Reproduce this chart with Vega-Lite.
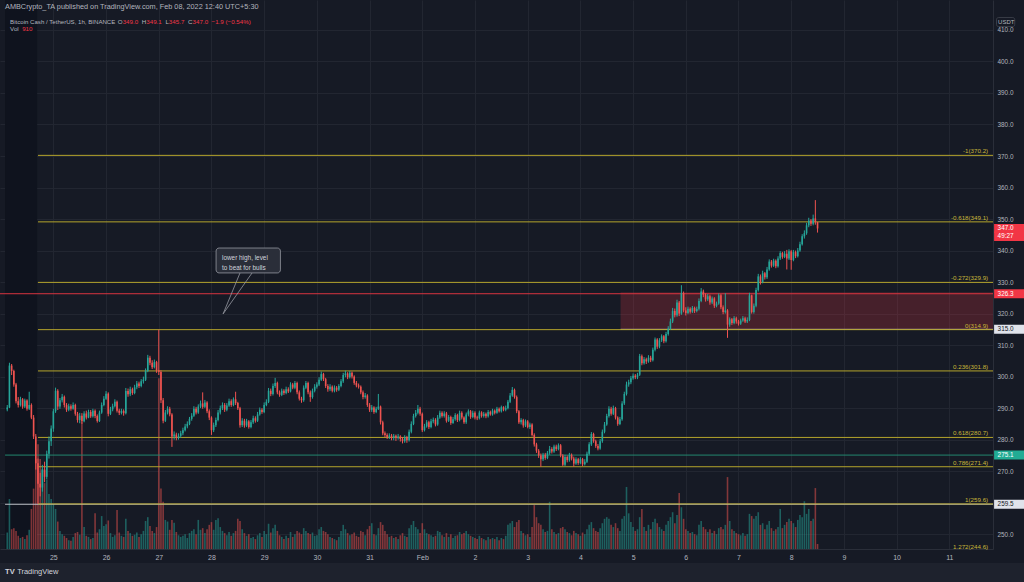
{
"$schema":"https://vega.github.io/schema/vega-lite/v6.json",
"width":993,"height":549,
"autosize":{"type":"none"},
"padding":{"left":0,"top":0,"right":31,"bottom":33},
"background":"#161a25",
"config":{"view":{"stroke":null,"fill":"#161a25"},"axis":{"title":null,"labelFont":"Liberation Sans","labelColor":"#b2b5be","gridColor":"#222631","domainColor":"#2a2e39","ticks":false,"labelOverlap":false},"text":{"font":"Liberation Sans"}},
"datasets":{
"k":[
{"t":3,"o":289.6,"h":291,"l":289,"c":290.2,"v":3000},
{"t":4,"o":290.2,"h":304.4,"l":290,"c":303.5,"v":9100},
{"t":5,"o":303.5,"h":304,"l":300.5,"c":301.8,"v":3600},
{"t":6,"o":301.8,"h":302.2,"l":296.8,"c":297.5,"v":3800},
{"t":7,"o":297.5,"h":298,"l":291.5,"c":292.2,"v":3300},
{"t":8,"o":292.2,"h":293.5,"l":290.2,"c":291,"v":2400},
{"t":9,"o":291,"h":293.6,"l":290.5,"c":292.8,"v":2000},
{"t":10,"o":292.8,"h":293.2,"l":289.8,"c":290.5,"v":2200},
{"t":11,"o":290.5,"h":293,"l":290,"c":292.4,"v":1800},
{"t":12,"o":292.4,"h":292.8,"l":289.2,"c":289.8,"v":2500},
{"t":13,"o":289.8,"h":295.2,"l":289.4,"c":291,"v":3500},
{"t":14,"o":291,"h":291.5,"l":286.5,"c":287,"v":7300},
{"t":15,"o":287,"h":287.8,"l":280.2,"c":281,"v":11000},
{"t":16,"o":281,"h":281.8,"l":270.5,"c":272.5,"v":16400},
{"t":17,"o":272.5,"h":274,"l":259.6,"c":266,"v":19100},
{"t":18,"o":266,"h":269.5,"l":262,"c":264.8,"v":16400},
{"t":19,"o":264.8,"h":272,"l":263.5,"c":270.5,"v":14600},
{"t":20,"o":270.5,"h":273,"l":266.5,"c":268.2,"v":12000},
{"t":21,"o":268.2,"h":276.5,"l":267.5,"c":275.5,"v":12700},
{"t":22,"o":275.5,"h":281,"l":274,"c":279.5,"v":10000},
{"t":23,"o":279.5,"h":284.5,"l":278,"c":283.5,"v":9100},
{"t":24,"o":283.5,"h":289.8,"l":282.5,"c":289,"v":8200},
{"t":25,"o":289,"h":296.5,"l":288.5,"c":295.5,"v":7300},
{"t":26,"o":295.5,"h":296,"l":289.4,"c":290.5,"v":5000},
{"t":27,"o":290.5,"h":293.2,"l":289.8,"c":292.5,"v":3300},
{"t":28,"o":292.5,"h":294.5,"l":291.8,"c":293.6,"v":2700},
{"t":29,"o":293.6,"h":294,"l":290.2,"c":291,"v":2400},
{"t":30,"o":291,"h":291.6,"l":288.8,"c":289.5,"v":2000},
{"t":31,"o":289.5,"h":291.4,"l":289,"c":290.6,"v":1600},
{"t":32,"o":290.6,"h":291.2,"l":289.2,"c":289.8,"v":1500},
{"t":33,"o":289.8,"h":291.8,"l":289.5,"c":291,"v":2200},
{"t":34,"o":291,"h":291.4,"l":287.6,"c":288.2,"v":2900},
{"t":35,"o":288.2,"h":288.8,"l":285.4,"c":286.2,"v":3100},
{"t":36,"o":286.2,"h":288.5,"l":285.2,"c":287.6,"v":2600},
{"t":37,"o":287.6,"h":288.4,"l":285,"c":285.8,"v":23100},
{"t":38,"o":285.8,"h":289,"l":285.5,"c":288.3,"v":4000},
{"t":39,"o":288.3,"h":289.2,"l":286.4,"c":287,"v":2400},
{"t":40,"o":287,"h":289.5,"l":286.8,"c":288.8,"v":2200},
{"t":41,"o":288.8,"h":289.4,"l":286.9,"c":287.4,"v":1800},
{"t":42,"o":287.4,"h":289.8,"l":287,"c":289.2,"v":2000},
{"t":43,"o":289.2,"h":289.6,"l":286.8,"c":287.5,"v":6500},
{"t":44,"o":287.5,"h":288,"l":285.4,"c":285.9,"v":3000},
{"t":45,"o":285.9,"h":289.2,"l":285.6,"c":288.6,"v":3600},
{"t":46,"o":288.6,"h":291.8,"l":288.2,"c":291,"v":6000},
{"t":47,"o":291,"h":293.8,"l":290.6,"c":293,"v":4200},
{"t":48,"o":293,"h":295.4,"l":292.6,"c":294.6,"v":4500},
{"t":49,"o":294.6,"h":295,"l":287.4,"c":288.2,"v":5200},
{"t":50,"o":288.2,"h":290.4,"l":287.8,"c":289.6,"v":2900},
{"t":51,"o":289.6,"h":291.4,"l":289,"c":290.6,"v":2200},
{"t":52,"o":290.6,"h":292.8,"l":290.2,"c":292,"v":2500},
{"t":53,"o":292,"h":292.4,"l":288.6,"c":289.2,"v":7100},
{"t":54,"o":289.2,"h":289.8,"l":287.8,"c":288.5,"v":3000},
{"t":55,"o":288.5,"h":289.8,"l":288,"c":289.1,"v":2400},
{"t":56,"o":289.1,"h":289.6,"l":287.6,"c":288.4,"v":2200},
{"t":57,"o":288.4,"h":296.4,"l":288,"c":295.4,"v":5500},
{"t":58,"o":295.4,"h":296.2,"l":293.6,"c":294.4,"v":3300},
{"t":59,"o":294.4,"h":296.8,"l":293.8,"c":296,"v":2900},
{"t":60,"o":296,"h":296.5,"l":294.2,"c":294.8,"v":2400},
{"t":61,"o":294.8,"h":297.4,"l":294.4,"c":296.6,"v":2600},
{"t":62,"o":296.6,"h":298.6,"l":296,"c":297.8,"v":3000},
{"t":63,"o":297.8,"h":298.4,"l":296.4,"c":297,"v":2200},
{"t":64,"o":297,"h":299.2,"l":296.6,"c":298.5,"v":2700},
{"t":65,"o":298.5,"h":300,"l":297.8,"c":299,"v":3300},
{"t":66,"o":299,"h":302.6,"l":298.6,"c":301.8,"v":5100},
{"t":67,"o":301.8,"h":306.9,"l":301.4,"c":306,"v":5800},
{"t":68,"o":306,"h":306.6,"l":303.6,"c":304.4,"v":4200},
{"t":69,"o":304.4,"h":305.2,"l":302.4,"c":303,"v":3300},
{"t":70,"o":303,"h":305.4,"l":302.6,"c":304.6,"v":2900},
{"t":71,"o":304.6,"h":305,"l":301.2,"c":302,"v":4000},
{"t":72,"o":302,"h":314.9,"l":300.5,"c":301.5,"v":31100},
{"t":73,"o":301.5,"h":302,"l":291.6,"c":292.5,"v":11000},
{"t":74,"o":292.5,"h":293.2,"l":285.2,"c":286,"v":8600},
{"t":75,"o":286,"h":289.4,"l":285.6,"c":288.6,"v":5300},
{"t":76,"o":288.6,"h":290.6,"l":288,"c":289.8,"v":5000},
{"t":77,"o":289.8,"h":290.4,"l":287.4,"c":288,"v":3500},
{"t":78,"o":288,"h":288.4,"l":277.7,"c":281,"v":5300},
{"t":79,"o":281,"h":282.6,"l":280,"c":281.6,"v":4800},
{"t":80,"o":281.6,"h":282.2,"l":279.8,"c":280.5,"v":3100},
{"t":81,"o":280.5,"h":282,"l":280,"c":281.2,"v":2500},
{"t":82,"o":281.2,"h":282.8,"l":280.6,"c":282,"v":2200},
{"t":83,"o":282,"h":283.8,"l":281.4,"c":283,"v":2400},
{"t":84,"o":283,"h":285,"l":282.6,"c":284.2,"v":2700},
{"t":85,"o":284.2,"h":285.8,"l":283.6,"c":285,"v":2000},
{"t":86,"o":285,"h":287.2,"l":284.6,"c":286.6,"v":2900},
{"t":87,"o":286.6,"h":288.4,"l":286,"c":287.6,"v":3300},
{"t":88,"o":287.6,"h":290.6,"l":287.2,"c":289.8,"v":3600},
{"t":89,"o":289.8,"h":290.4,"l":288,"c":288.6,"v":2700},
{"t":90,"o":288.6,"h":291.2,"l":288.2,"c":290.5,"v":5300},
{"t":91,"o":290.5,"h":292.4,"l":290,"c":291.5,"v":3500},
{"t":92,"o":291.5,"h":295,"l":289.8,"c":290.4,"v":3800},
{"t":93,"o":290.4,"h":292.6,"l":290,"c":291.8,"v":2900},
{"t":94,"o":291.8,"h":292.2,"l":288.4,"c":289,"v":3600},
{"t":95,"o":289,"h":289.6,"l":286.2,"c":287,"v":4400},
{"t":96,"o":287,"h":287.4,"l":281.5,"c":283,"v":4900},
{"t":97,"o":283,"h":285.4,"l":282.4,"c":284.6,"v":3500},
{"t":98,"o":284.6,"h":287,"l":284,"c":286.2,"v":5300},
{"t":99,"o":286.2,"h":289.4,"l":285.8,"c":288.6,"v":5600},
{"t":100,"o":288.6,"h":290.8,"l":288,"c":290,"v":4000},
{"t":101,"o":290,"h":291.8,"l":289.4,"c":291,"v":3300},
{"t":102,"o":291,"h":291.6,"l":288.8,"c":289.5,"v":2900},
{"t":103,"o":289.5,"h":291.6,"l":289,"c":290.8,"v":2500},
{"t":104,"o":290.8,"h":293,"l":290.4,"c":292.2,"v":3100},
{"t":105,"o":292.2,"h":292.8,"l":290.4,"c":291,"v":2400},
{"t":106,"o":291,"h":293.4,"l":290.6,"c":292.8,"v":2900},
{"t":107,"o":292.8,"h":295.2,"l":291,"c":291.6,"v":3300},
{"t":108,"o":291.6,"h":292,"l":289.4,"c":290,"v":5500},
{"t":109,"o":290,"h":290.4,"l":283.8,"c":284.6,"v":5100},
{"t":110,"o":284.6,"h":286.8,"l":284,"c":286,"v":3600},
{"t":111,"o":286,"h":286.6,"l":283.8,"c":284.5,"v":2900},
{"t":112,"o":284.5,"h":286.6,"l":284,"c":285.8,"v":2400},
{"t":113,"o":285.8,"h":286.2,"l":283.5,"c":284,"v":2700},
{"t":114,"o":284,"h":286.2,"l":283.6,"c":285.5,"v":2000},
{"t":115,"o":285.5,"h":287.6,"l":285,"c":286.8,"v":2200},
{"t":116,"o":286.8,"h":287.4,"l":285.4,"c":286,"v":1800},
{"t":117,"o":286,"h":288.8,"l":285.6,"c":288,"v":2500},
{"t":118,"o":288,"h":290.2,"l":287.6,"c":289.5,"v":2900},
{"t":119,"o":289.5,"h":290,"l":288.2,"c":288.8,"v":2200},
{"t":120,"o":288.8,"h":291.8,"l":288.4,"c":291,"v":3300},
{"t":121,"o":291,"h":292.8,"l":290.6,"c":292,"v":2700},
{"t":122,"o":292,"h":296.4,"l":291.6,"c":295.5,"v":4600},
{"t":123,"o":295.5,"h":296.2,"l":293.8,"c":294.5,"v":3000},
{"t":124,"o":294.5,"h":297.8,"l":294,"c":297,"v":3800},
{"t":125,"o":297,"h":299.6,"l":296.4,"c":298,"v":4400},
{"t":126,"o":298,"h":298.4,"l":294.4,"c":295,"v":3300},
{"t":127,"o":295,"h":295.6,"l":293.6,"c":294.2,"v":2500},
{"t":128,"o":294.2,"h":296.2,"l":293.8,"c":295.5,"v":2200},
{"t":129,"o":295.5,"h":296,"l":294.2,"c":294.8,"v":1800},
{"t":130,"o":294.8,"h":296.8,"l":294.4,"c":296,"v":2400},
{"t":131,"o":296,"h":296.6,"l":294.8,"c":295.3,"v":2000},
{"t":132,"o":295.3,"h":298.2,"l":295,"c":297.5,"v":3100},
{"t":133,"o":297.5,"h":298,"l":296,"c":296.5,"v":2200},
{"t":134,"o":296.5,"h":298.6,"l":296,"c":298,"v":2700},
{"t":135,"o":298,"h":298.4,"l":294.4,"c":295,"v":3300},
{"t":136,"o":295,"h":295.6,"l":292.4,"c":293,"v":3000},
{"t":137,"o":293,"h":293.6,"l":291.7,"c":292.5,"v":2700},
{"t":138,"o":292.5,"h":297.2,"l":292,"c":296.5,"v":3800},
{"t":139,"o":296.5,"h":298.6,"l":296,"c":298,"v":3300},
{"t":140,"o":298,"h":298.4,"l":294.4,"c":295,"v":2900},
{"t":141,"o":295,"h":295.6,"l":292,"c":293.5,"v":2700},
{"t":142,"o":293.5,"h":296.2,"l":293,"c":295.5,"v":3000},
{"t":143,"o":295.5,"h":297.6,"l":295,"c":296.8,"v":2400},
{"t":144,"o":296.8,"h":298.2,"l":296.2,"c":297.5,"v":2500},
{"t":145,"o":297.5,"h":299.8,"l":297,"c":299,"v":3600},
{"t":146,"o":299,"h":301.6,"l":298.6,"c":300.8,"v":4000},
{"t":147,"o":300.8,"h":301.2,"l":298.6,"c":299.2,"v":3300},
{"t":148,"o":299.2,"h":299.6,"l":296.4,"c":297,"v":3100},
{"t":149,"o":297,"h":297.6,"l":295.2,"c":296,"v":2700},
{"t":150,"o":296,"h":297.6,"l":295.4,"c":296.8,"v":2200},
{"t":151,"o":296.8,"h":297.2,"l":295,"c":295.5,"v":2000},
{"t":152,"o":295.5,"h":297.2,"l":295,"c":296.5,"v":1800},
{"t":153,"o":296.5,"h":297,"l":295.2,"c":295.8,"v":1600},
{"t":154,"o":295.8,"h":297.6,"l":295.4,"c":297,"v":2200},
{"t":155,"o":297,"h":299.2,"l":296.6,"c":298.5,"v":3300},
{"t":156,"o":298.5,"h":301.2,"l":298,"c":300.5,"v":4400},
{"t":157,"o":300.5,"h":301.9,"l":299.8,"c":301,"v":3600},
{"t":158,"o":301,"h":301.4,"l":299.2,"c":299.8,"v":2900},
{"t":159,"o":299.8,"h":301.8,"l":299.4,"c":301.2,"v":2500},
{"t":160,"o":301.2,"h":301.6,"l":299.4,"c":300,"v":2700},
{"t":161,"o":300,"h":300.4,"l":297.4,"c":298,"v":3000},
{"t":162,"o":298,"h":298.6,"l":296.6,"c":297.2,"v":2400},
{"t":163,"o":297.2,"h":297.8,"l":296.2,"c":296.8,"v":2200},
{"t":164,"o":296.8,"h":297.2,"l":294.4,"c":295,"v":3300},
{"t":165,"o":295,"h":295.6,"l":292.8,"c":293.5,"v":3100},
{"t":166,"o":293.5,"h":294.8,"l":293,"c":294,"v":2500},
{"t":167,"o":294,"h":294.4,"l":290.4,"c":291,"v":3600},
{"t":168,"o":291,"h":291.6,"l":288.8,"c":289.5,"v":4200},
{"t":169,"o":289.5,"h":291,"l":288.8,"c":290.2,"v":4700},
{"t":170,"o":290.2,"h":290.6,"l":288.2,"c":288.8,"v":2700},
{"t":171,"o":288.8,"h":290.4,"l":288.4,"c":289.8,"v":2500},
{"t":172,"o":289.8,"h":294.5,"l":289.4,"c":290.5,"v":3800},
{"t":173,"o":290.5,"h":290.8,"l":284.8,"c":285.5,"v":4900},
{"t":174,"o":285.5,"h":286,"l":281.4,"c":282,"v":4400},
{"t":175,"o":282,"h":282.6,"l":280.8,"c":281.5,"v":3300},
{"t":176,"o":281.5,"h":282,"l":280.2,"c":280.8,"v":2700},
{"t":177,"o":280.8,"h":282,"l":280.2,"c":281.3,"v":2200},
{"t":178,"o":281.3,"h":281.8,"l":279.8,"c":280.5,"v":2400},
{"t":179,"o":280.5,"h":281.8,"l":279.8,"c":281.2,"v":2000},
{"t":180,"o":281.2,"h":281.6,"l":279.6,"c":280.6,"v":2200},
{"t":181,"o":280.6,"h":281.8,"l":280,"c":281,"v":1800},
{"t":182,"o":281,"h":281.4,"l":279.4,"c":280.2,"v":2500},
{"t":183,"o":280.2,"h":280.8,"l":278.8,"c":279.5,"v":2900},
{"t":184,"o":279.5,"h":281.4,"l":279,"c":280.8,"v":2400},
{"t":185,"o":280.8,"h":281.2,"l":279,"c":279.8,"v":2200},
{"t":186,"o":279.8,"h":283.2,"l":279.4,"c":282.5,"v":3800},
{"t":187,"o":282.5,"h":285.8,"l":282,"c":285,"v":4400},
{"t":188,"o":285,"h":288.2,"l":284.6,"c":287.5,"v":5100},
{"t":189,"o":287.5,"h":289.4,"l":287,"c":288.5,"v":4000},
{"t":190,"o":288.5,"h":291,"l":288,"c":289.8,"v":3600},
{"t":191,"o":289.8,"h":290.4,"l":287.6,"c":288.2,"v":2900},
{"t":192,"o":288.2,"h":288.6,"l":282.4,"c":283,"v":4700},
{"t":193,"o":283,"h":285,"l":282.6,"c":284.2,"v":3600},
{"t":194,"o":284.2,"h":286.2,"l":283.8,"c":285.5,"v":2900},
{"t":195,"o":285.5,"h":286,"l":283.4,"c":284,"v":2700},
{"t":196,"o":284,"h":286.6,"l":283.6,"c":285.8,"v":2500},
{"t":197,"o":285.8,"h":287,"l":285.2,"c":286.3,"v":2200},
{"t":198,"o":286.3,"h":286.8,"l":284.2,"c":284.8,"v":2400},
{"t":199,"o":284.8,"h":287.8,"l":284.4,"c":287,"v":3300},
{"t":200,"o":287,"h":289.2,"l":286.6,"c":288.5,"v":3100},
{"t":201,"o":288.5,"h":289,"l":287,"c":287.5,"v":2500},
{"t":202,"o":287.5,"h":289,"l":287,"c":288.3,"v":2200},
{"t":203,"o":288.3,"h":288.8,"l":285.4,"c":286,"v":2900},
{"t":204,"o":286,"h":287.8,"l":285.6,"c":287.2,"v":2200},
{"t":205,"o":287.2,"h":287.6,"l":284.7,"c":285.3,"v":2700},
{"t":206,"o":285.3,"h":287.2,"l":285,"c":286.5,"v":2000},
{"t":207,"o":286.5,"h":288.4,"l":286,"c":287.8,"v":2400},
{"t":208,"o":287.8,"h":288.2,"l":285.6,"c":286.2,"v":2500},
{"t":209,"o":286.2,"h":289.2,"l":285.8,"c":288.5,"v":3100},
{"t":210,"o":288.5,"h":289,"l":286.4,"c":287,"v":2700},
{"t":211,"o":287,"h":287.4,"l":285,"c":285.5,"v":2900},
{"t":212,"o":285.5,"h":288.6,"l":285,"c":288,"v":3300},
{"t":213,"o":288,"h":289.6,"l":287.4,"c":289,"v":2700},
{"t":214,"o":289,"h":289.4,"l":286.6,"c":287.2,"v":2400},
{"t":215,"o":287.2,"h":289.2,"l":286.8,"c":288.5,"v":2200},
{"t":216,"o":288.5,"h":289,"l":286.4,"c":287,"v":2000},
{"t":217,"o":287,"h":287.6,"l":286.2,"c":286.8,"v":1800},
{"t":218,"o":286.8,"h":289.2,"l":286.4,"c":288.6,"v":2400},
{"t":219,"o":288.6,"h":289,"l":287,"c":287.5,"v":2000},
{"t":220,"o":287.5,"h":288.8,"l":287,"c":288.2,"v":1800},
{"t":221,"o":288.2,"h":288.6,"l":286.8,"c":287.4,"v":1600},
{"t":222,"o":287.4,"h":289.4,"l":287,"c":288.8,"v":2200},
{"t":223,"o":288.8,"h":289.2,"l":287.6,"c":288,"v":1800},
{"t":224,"o":288,"h":289.8,"l":287.6,"c":289.2,"v":2000},
{"t":225,"o":289.2,"h":289.6,"l":288,"c":288.5,"v":1800},
{"t":226,"o":288.5,"h":290.4,"l":288.2,"c":289.8,"v":2200},
{"t":227,"o":289.8,"h":290.2,"l":288.6,"c":289,"v":1600},
{"t":228,"o":289,"h":290.8,"l":288.6,"c":290.3,"v":2000},
{"t":229,"o":290.3,"h":290.6,"l":289,"c":289.5,"v":1800},
{"t":230,"o":289.5,"h":290.8,"l":289,"c":290,"v":2400},
{"t":231,"o":290,"h":292.6,"l":289.6,"c":292,"v":4400},
{"t":232,"o":292,"h":294.8,"l":291.6,"c":294,"v":4700},
{"t":233,"o":294,"h":296.7,"l":293.6,"c":295.8,"v":5100},
{"t":234,"o":295.8,"h":296.2,"l":293,"c":293.5,"v":4000},
{"t":235,"o":293.5,"h":294,"l":288.4,"c":289,"v":4900},
{"t":236,"o":289,"h":289.4,"l":285,"c":285.5,"v":5300},
{"t":237,"o":285.5,"h":286.8,"l":284.8,"c":286.2,"v":3300},
{"t":238,"o":286.2,"h":286.6,"l":283.8,"c":284.5,"v":2900},
{"t":239,"o":284.5,"h":286.4,"l":284,"c":285.8,"v":2500},
{"t":240,"o":285.8,"h":286.2,"l":283.6,"c":284,"v":2700},
{"t":241,"o":284,"h":285.4,"l":283.4,"c":284.8,"v":2200},
{"t":242,"o":284.8,"h":285.2,"l":281,"c":281.5,"v":4000},
{"t":243,"o":281.5,"h":282,"l":277.8,"c":278.5,"v":8000},
{"t":244,"o":278.5,"h":279,"l":275.8,"c":276.5,"v":5800},
{"t":245,"o":276.5,"h":277,"l":274.2,"c":275,"v":4700},
{"t":246,"o":275,"h":275.6,"l":271.4,"c":273.8,"v":4400},
{"t":247,"o":273.8,"h":275.8,"l":273.2,"c":275.2,"v":3600},
{"t":248,"o":275.2,"h":275.8,"l":273.6,"c":274.2,"v":3100},
{"t":249,"o":274.2,"h":276.4,"l":273.8,"c":275.8,"v":3300},
{"t":250,"o":275.8,"h":278,"l":275.2,"c":277,"v":8600},
{"t":251,"o":277,"h":277.6,"l":275.6,"c":276.2,"v":3600},
{"t":252,"o":276.2,"h":278.4,"l":275.8,"c":277.8,"v":3100},
{"t":253,"o":277.8,"h":278.4,"l":276.4,"c":277,"v":2700},
{"t":254,"o":277,"h":278.8,"l":276.6,"c":278.2,"v":2900},
{"t":255,"o":278.2,"h":278.6,"l":274.4,"c":275,"v":3800},
{"t":256,"o":275,"h":275.4,"l":271.6,"c":272,"v":4000},
{"t":257,"o":272,"h":275.2,"l":271.6,"c":274.5,"v":3600},
{"t":258,"o":274.5,"h":275,"l":272.8,"c":273.5,"v":3100},
{"t":259,"o":273.5,"h":275.8,"l":273,"c":275.2,"v":2900},
{"t":260,"o":275.2,"h":275.6,"l":273.4,"c":274,"v":2500},
{"t":261,"o":274,"h":274.6,"l":271.4,"c":272.4,"v":3300},
{"t":262,"o":272.4,"h":274.4,"l":272,"c":273.8,"v":2900},
{"t":263,"o":273.8,"h":274.2,"l":272,"c":272.6,"v":2700},
{"t":264,"o":272.6,"h":274.4,"l":272.2,"c":273.8,"v":2400},
{"t":265,"o":273.8,"h":274.2,"l":271.6,"c":272.2,"v":3000},
{"t":266,"o":272.2,"h":273.8,"l":271.8,"c":273,"v":2700},
{"t":267,"o":273,"h":276.2,"l":272.6,"c":275.5,"v":3600},
{"t":268,"o":275.5,"h":279.2,"l":275,"c":278.5,"v":4400},
{"t":269,"o":278.5,"h":282.4,"l":278,"c":281.8,"v":4900},
{"t":270,"o":281.8,"h":282.2,"l":279,"c":279.5,"v":3800},
{"t":271,"o":279.5,"h":280,"l":277.4,"c":278,"v":3300},
{"t":272,"o":278,"h":278.6,"l":276.6,"c":277.2,"v":3100},
{"t":273,"o":277.2,"h":280.2,"l":276.8,"c":279.5,"v":3800},
{"t":274,"o":279.5,"h":283.2,"l":279,"c":282.5,"v":4700},
{"t":275,"o":282.5,"h":285.6,"l":282,"c":284.8,"v":5500},
{"t":276,"o":284.8,"h":288.2,"l":284.4,"c":287.5,"v":5800},
{"t":277,"o":287.5,"h":290.6,"l":287,"c":289.8,"v":5500},
{"t":278,"o":289.8,"h":290.4,"l":287.6,"c":288.2,"v":4400},
{"t":279,"o":288.2,"h":290.8,"l":287.8,"c":290,"v":4000},
{"t":280,"o":290,"h":290.4,"l":286.4,"c":287,"v":4700},
{"t":281,"o":287,"h":287.4,"l":284.4,"c":285,"v":3800},
{"t":282,"o":285,"h":287.2,"l":284.6,"c":286.5,"v":3300},
{"t":283,"o":286.5,"h":292.2,"l":286,"c":291.5,"v":5500},
{"t":284,"o":291.5,"h":295.2,"l":291,"c":294.5,"v":6000},
{"t":285,"o":294.5,"h":298.4,"l":294,"c":297.5,"v":11300},
{"t":286,"o":297.5,"h":299,"l":296.8,"c":298.2,"v":6500},
{"t":287,"o":298.2,"h":300.2,"l":297.6,"c":299.5,"v":4900},
{"t":288,"o":299.5,"h":301,"l":299,"c":300.3,"v":4000},
{"t":289,"o":300.3,"h":300.8,"l":299.2,"c":299.8,"v":3300},
{"t":290,"o":299.8,"h":301.2,"l":299.2,"c":300.6,"v":3600},
{"t":291,"o":300.6,"h":307.2,"l":300.2,"c":306.5,"v":5800},
{"t":292,"o":306.5,"h":307,"l":303.6,"c":304.2,"v":7300},
{"t":293,"o":304.2,"h":306.2,"l":303.8,"c":305.5,"v":4000},
{"t":294,"o":305.5,"h":306,"l":304,"c":304.8,"v":3300},
{"t":295,"o":304.8,"h":306.8,"l":304.4,"c":306,"v":4400},
{"t":296,"o":306,"h":306.6,"l":304.6,"c":305.2,"v":3600},
{"t":297,"o":305.2,"h":309.2,"l":304.8,"c":308.5,"v":4900},
{"t":298,"o":308.5,"h":312.4,"l":308,"c":311.8,"v":5500},
{"t":299,"o":311.8,"h":312.2,"l":308.8,"c":309.5,"v":4700},
{"t":300,"o":309.5,"h":312.2,"l":309,"c":311.5,"v":4000},
{"t":301,"o":311.5,"h":313.4,"l":311,"c":312.8,"v":3600},
{"t":302,"o":312.8,"h":313.2,"l":310.6,"c":311.2,"v":3300},
{"t":303,"o":311.2,"h":314.2,"l":310.8,"c":313.5,"v":4400},
{"t":304,"o":313.5,"h":316,"l":313,"c":315.2,"v":5100},
{"t":305,"o":315.2,"h":318.4,"l":314.8,"c":317.5,"v":5800},
{"t":306,"o":317.5,"h":321.8,"l":317,"c":320.8,"v":6700},
{"t":307,"o":320.8,"h":321.6,"l":318.8,"c":319.5,"v":4700},
{"t":308,"o":319.5,"h":324.4,"l":319,"c":323.5,"v":6200},
{"t":309,"o":323.5,"h":324,"l":319.2,"c":320,"v":10200},
{"t":310,"o":320,"h":329,"l":319.6,"c":326.5,"v":7600},
{"t":311,"o":326.5,"h":327,"l":320.4,"c":321,"v":5500},
{"t":312,"o":321,"h":322,"l":319.4,"c":320.2,"v":3600},
{"t":313,"o":320.2,"h":322.2,"l":319.8,"c":321.5,"v":3300},
{"t":314,"o":321.5,"h":322,"l":320,"c":320.6,"v":2900},
{"t":315,"o":320.6,"h":322.4,"l":320.2,"c":321.8,"v":3100},
{"t":316,"o":321.8,"h":322.2,"l":320.2,"c":320.8,"v":2700},
{"t":317,"o":320.8,"h":322.2,"l":320.4,"c":321.5,"v":2500},
{"t":318,"o":321.5,"h":324.8,"l":321,"c":324,"v":4400},
{"t":319,"o":324,"h":328.1,"l":323.6,"c":327,"v":5100},
{"t":320,"o":327,"h":327.6,"l":325.2,"c":326,"v":4000},
{"t":321,"o":326,"h":326.4,"l":323.8,"c":324.5,"v":3600},
{"t":322,"o":324.5,"h":326.2,"l":324,"c":325.5,"v":3100},
{"t":323,"o":325.5,"h":326,"l":322.8,"c":323.5,"v":3600},
{"t":324,"o":323.5,"h":325.4,"l":323,"c":324.8,"v":2900},
{"t":325,"o":324.8,"h":325.2,"l":321.8,"c":322.5,"v":3300},
{"t":326,"o":322.5,"h":323.8,"l":322,"c":323.2,"v":2700},
{"t":327,"o":323.2,"h":326.4,"l":322.8,"c":325.8,"v":3800},
{"t":328,"o":325.8,"h":326.2,"l":321.4,"c":322,"v":4000},
{"t":329,"o":322,"h":322.6,"l":319.8,"c":320.5,"v":3600},
{"t":330,"o":320.5,"h":326.5,"l":320,"c":321,"v":4400},
{"t":331,"o":321,"h":321.4,"l":312.3,"c":316.5,"v":13100},
{"t":332,"o":316.5,"h":318.8,"l":315.8,"c":318.2,"v":5100},
{"t":333,"o":318.2,"h":318.6,"l":316.4,"c":317,"v":3600},
{"t":334,"o":317,"h":319.2,"l":316.6,"c":318.5,"v":3300},
{"t":335,"o":318.5,"h":319,"l":316.8,"c":317.5,"v":2900},
{"t":336,"o":317.5,"h":318,"l":316.2,"c":316.8,"v":2700},
{"t":337,"o":316.8,"h":318.4,"l":316.4,"c":317.8,"v":2500},
{"t":338,"o":317.8,"h":319.2,"l":317.4,"c":318.5,"v":2900},
{"t":339,"o":318.5,"h":319,"l":317,"c":317.5,"v":2400},
{"t":340,"o":317.5,"h":318.8,"l":317,"c":318,"v":2700},
{"t":341,"o":318,"h":326.6,"l":317.6,"c":325.8,"v":6400},
{"t":342,"o":325.8,"h":326,"l":320,"c":320.5,"v":6000},
{"t":343,"o":320.5,"h":323.2,"l":320,"c":322.5,"v":5500},
{"t":344,"o":322.5,"h":328.2,"l":322,"c":327.5,"v":6000},
{"t":345,"o":327.5,"h":332.6,"l":327,"c":331.8,"v":6700},
{"t":346,"o":331.8,"h":332.4,"l":329.2,"c":330,"v":4400},
{"t":347,"o":330,"h":333.6,"l":329.6,"c":332.8,"v":4700},
{"t":348,"o":332.8,"h":333.2,"l":330.8,"c":331.5,"v":3600},
{"t":349,"o":331.5,"h":334.8,"l":331,"c":334,"v":4400},
{"t":350,"o":334,"h":337.2,"l":333.6,"c":336.5,"v":5100},
{"t":351,"o":336.5,"h":337,"l":334.6,"c":335.2,"v":3800},
{"t":352,"o":335.2,"h":337.4,"l":334.8,"c":336.8,"v":3300},
{"t":353,"o":336.8,"h":337.2,"l":334.4,"c":335,"v":3600},
{"t":354,"o":335,"h":338.2,"l":334.6,"c":337.5,"v":4000},
{"t":355,"o":337.5,"h":339.8,"l":337,"c":339.2,"v":7300},
{"t":356,"o":339.2,"h":339.6,"l":337.4,"c":338,"v":3800},
{"t":357,"o":338,"h":339.8,"l":337.6,"c":339,"v":4400},
{"t":358,"o":339,"h":340.2,"l":334,"c":337.5,"v":4900},
{"t":359,"o":337.5,"h":340.4,"l":337,"c":339.8,"v":5500},
{"t":360,"o":339.8,"h":340.2,"l":333.9,"c":337,"v":5100},
{"t":361,"o":337,"h":340.2,"l":336.6,"c":339.5,"v":4700},
{"t":362,"o":339.5,"h":340,"l":337.6,"c":338.2,"v":4000},
{"t":363,"o":338.2,"h":340.8,"l":337.8,"c":340,"v":5300},
{"t":364,"o":340,"h":342.8,"l":339.6,"c":342,"v":6200},
{"t":365,"o":342,"h":345.2,"l":341.6,"c":344.5,"v":5800},
{"t":366,"o":344.5,"h":346.4,"l":343.8,"c":345.5,"v":8700},
{"t":367,"o":345.5,"h":348.8,"l":345,"c":348,"v":6400},
{"t":368,"o":348,"h":350.4,"l":347.4,"c":349.5,"v":7300},
{"t":369,"o":349.5,"h":350,"l":347.8,"c":348.5,"v":5100},
{"t":370,"o":348.5,"h":351.4,"l":348,"c":350.2,"v":5500},
{"t":371,"o":350.2,"h":356,"l":348.2,"c":349,"v":11100},
{"t":372,"o":349,"h":349.1,"l":345.7,"c":347,"v":910}
],
"fib":[
{"lab":"-1(370.2)","p":370.2},
{"lab":"-0.618(349.1)","p":349.1},
{"lab":"-0.272(329.9)","p":329.9},
{"lab":"0(314.9)","p":314.9},
{"lab":"0.236(301.8)","p":301.8},
{"lab":"0.618(280.7)","p":280.7},
{"lab":"0.786(271.4)","p":271.4},
{"lab":"1(259.6)","p":259.6},
{"lab":"1.272(244.6)","p":244.6}
],
"ray":[
{"p":326.3,"k":"r","t0":-0.3},
{"p":315.0,"k":"w","t0":282.3},
{"p":275.1,"k":"g","t0":2},
{"p":259.5,"k":"w","t0":2}
],
"tag":[
{"p":347.0,"lab":"347.0","k":"r"},
{"p":326.3,"lab":"326.3","k":"r"},
{"p":315.0,"lab":"315.0","k":"w"},
{"p":275.1,"lab":"275.1","k":"g"},
{"p":259.5,"lab":"259.5","k":"w"}
]
},
"layer":[
{"data":{"values":[{}]},"mark":{"type":"rect","color":"#0f131e"},
 "encoding":{"x":{"datum":2.0,"type":"quantitative","scale":{"domain":[-0.3,451.9],"nice":false,"zero":false},
   "axis":{"values":[24,48,72,96,120,144,168,192,216,240,264,288,312,336,360,384,408,432],"labelExpr":"datum.value==192?'Feb':(datum.value<192?''+(datum.value/24+24):''+(datum.value/24-7))","grid":true,"labelFontSize":7,"labelPadding":4,"domain":true,"labelOverlap":false}},
  "x2":{"datum":16.6}}},
{"data":{"values":[{}]},"mark":{"type":"rule","opacity":0},
 "encoding":{"y":{"datum":300,"type":"quantitative","scale":{"domain":[245.3,419.5],"nice":false,"zero":false},
   "axis":{"orient":"right","values":[250,260,270,280,290,300,310,320,330,340,350,360,370,380,390,400,410],"format":".1f","grid":true,"labelFontSize":6.4,"labelPadding":4,"domain":true,"labelOverlap":false,"labelBound":false,"labelFlush":false}}}},
{"data":{"name":"k"},"mark":{"type":"rule","strokeWidth":1.6,"opacity":0.5},
 "encoding":{"x":{"field":"t","type":"quantitative"},
  "y":{"field":"v","type":"quantitative","scale":{"domain":[0,100000],"nice":false,"zero":true},"axis":null},
  "y2":{"datum":0},
  "color":{"condition":{"test":"datum.c>=datum.o","value":"#26a69a"},"value":"#ef5350"}}},
{"layer":[
 {"data":{"values":[{}]},"mark":{"type":"rect","color":"#1e222d","clip":false},
  "encoding":{"x":{"datum":-0.3},"x2":{"datum":466.5},
   "y":{"datum":240.85,"type":"quantitative","scale":{"domain":[245.3,419.5],"nice":false,"zero":false},"axis":null},
   "y2":{"datum":233.0}}},
 {"data":{"values":[{"t0":282.3,"lo":315.0,"hi":326.8}]},"mark":{"type":"rect","color":"#f23645","opacity":0.22},
  "encoding":{"x":{"field":"t0","type":"quantitative"},"x2":{"datum":451.9},"y":{"field":"lo","type":"quantitative","axis":null},"y2":{"field":"hi"}}},
 {"data":{"name":"ray"},"mark":{"type":"rule","strokeWidth":1},
  "encoding":{"x":{"field":"t0","type":"quantitative"},"x2":{"datum":451.9},"y":{"field":"p","type":"quantitative","axis":null},
   "stroke":{"field":"k","type":"nominal","scale":{"domain":["r","w","g"],"range":["#d8343f","#c3c5cc","#23876f"]},"legend":null}}},
 {"data":{"name":"fib"},"transform":[{"filter":"datum.p>246"}],"mark":{"type":"rule","strokeWidth":1,"color":"#b4a42c"},
  "encoding":{"x":{"datum":17},"x2":{"datum":451.9},"y":{"field":"p","type":"quantitative","axis":null}}},
 {"data":{"name":"k"},"mark":{"type":"rule","strokeWidth":1},
  "encoding":{"x":{"field":"t","type":"quantitative"},
   "y":{"field":"l","type":"quantitative","axis":null},
   "y2":{"field":"h"},
   "color":{"condition":{"test":"datum.c>=datum.o","value":"#26a69a"},"value":"#ef5350"}}},
 {"data":{"name":"k"},"mark":{"type":"rule","strokeWidth":1.6},
  "encoding":{"x":{"field":"t","type":"quantitative"},"y":{"field":"o","type":"quantitative","axis":null},"y2":{"field":"c"},
   "color":{"condition":{"test":"datum.c>=datum.o","value":"#26a69a"},"value":"#ef5350"}}},
 {"data":{"name":"fib"},"mark":{"type":"text","align":"right","baseline":"bottom","dy":-1,"fontSize":6.2,"color":"#c9b73a"},
  "encoding":{"x":{"datum":449.7},"y":{"field":"p","type":"quantitative","axis":null},"text":{"field":"lab"}}},
 {"data":{"name":"tag"},"mark":{"type":"rect","yOffset":-4.5,"y2Offset":4.5,"clip":false},
  "encoding":{"x":{"datum":452.4},"x2":{"datum":466.5},"y":{"field":"p","type":"quantitative","axis":null},"y2":{"field":"p"},
   "fill":{"field":"k","type":"nominal","scale":{"domain":["r","w","g"],"range":["#f23645","#e0e3eb","#22ab94"]},"legend":null}}},
 {"data":{"values":[{}]},"mark":{"type":"rect","color":"#f23645","yOffset":3,"y2Offset":12.5,"clip":false},
  "encoding":{"x":{"datum":452.4},"x2":{"datum":466.5},"y":{"datum":347.0,"axis":null},"y2":{"datum":347.0}}},
 {"data":{"name":"tag"},"mark":{"type":"text","align":"left","baseline":"middle","fontSize":6.4},
  "encoding":{"x":{"datum":454.0},"y":{"field":"p","type":"quantitative","axis":null},"text":{"field":"lab"},
   "color":{"field":"k","type":"nominal","scale":{"domain":["r","w","g"],"range":["#ffffff","#131722","#ffffff"]},"legend":null}}},
 {"data":{"values":[{}]},"mark":{"type":"text","align":"left","baseline":"middle","fontSize":6.4,"color":"#ffffff","dy":7.6},
  "encoding":{"x":{"datum":454.0},"y":{"datum":347.0,"axis":null},"text":{"value":"49:27"}}},
 {"data":{"values":[{}]},"mark":{"type":"rect","fill":"#161a25","stroke":"#434651","strokeWidth":0.8,"cornerRadius":2,"yOffset":-4.5,"y2Offset":4.5},
  "encoding":{"x":{"datum":453.5},"x2":{"datum":461.8},"y":{"datum":412.5,"axis":null},"y2":{"datum":412.5}}},
 {"data":{"values":[{}]},"mark":{"type":"text","align":"left","baseline":"middle","fontSize":6,"color":"#b2b5be"},
  "encoding":{"x":{"datum":454.2},"y":{"datum":412.5,"axis":null},"text":{"value":"USDT"}}},
 {"data":{"values":[{}]},"mark":{"type":"rule","color":"#9598a1","strokeWidth":0.8},
  "encoding":{"x":{"datum":109.0},"y":{"datum":332.9,"axis":null},"x2":{"datum":101.3},"y2":{"datum":319.9}}},
 {"data":{"values":[{}]},"mark":{"type":"rule","color":"#9598a1","strokeWidth":0.8},
  "encoding":{"x":{"datum":114.5},"y":{"datum":332.9,"axis":null},"x2":{"datum":101.3},"y2":{"datum":319.9}}},
 {"data":{"values":[{}]},"mark":{"type":"rect","fill":"#2a2e39","stroke":"#9598a1","strokeWidth":0.8,"cornerRadius":3},
  "encoding":{"x":{"datum":98.1},"x2":{"datum":127.4},"y":{"datum":332.9,"axis":null},"y2":{"datum":340.8}}},
 {"data":{"values":[{}]},"mark":{"type":"text","align":"left","baseline":"middle","fontSize":6.4,"color":"#d1d4dc"},
  "encoding":{"x":{"datum":100.8},"y":{"datum":337.7,"axis":null},"text":{"value":"lower high, level"}}},
 {"data":{"values":[{}]},"mark":{"type":"text","align":"left","baseline":"middle","fontSize":6.4,"color":"#d1d4dc"},
  "encoding":{"x":{"datum":100.8},"y":{"datum":334.5,"axis":null},"text":{"value":"to beat for bulls"}}},
 {"data":{"values":[{}]},"mark":{"type":"text","align":"left","baseline":"middle","fontSize":7.3,"color":"#b2b5be"},
  "encoding":{"x":{"datum":2.0},"y":{"datum":417.2,"axis":null},"text":{"value":"AMBCrypto_TA published on TradingView.com, Feb 08, 2022 12:40 UTC+5:30"}}},
 {"data":{"values":[{}]},"mark":{"type":"text","align":"left","baseline":"middle","fontSize":6.1,"color":"#b2b5be"},
  "encoding":{"x":{"datum":4.3},"y":{"datum":412.5,"axis":null},"text":{"value":"Bitcoin Cash / TetherUS, 1h, BINANCE"}}},
 {"data":{"values":[{}]},"mark":{"type":"text","align":"right","baseline":"middle","fontSize":6.2,"color":"#b2b5be"},
  "encoding":{"x":{"datum":55.56},"y":{"datum":412.5,"axis":null},"text":{"value":"O"}}},
 {"data":{"values":[{}]},"mark":{"type":"text","align":"left","baseline":"middle","fontSize":6.2,"color":"#f23645"},
  "encoding":{"x":{"datum":55.56},"y":{"datum":412.5,"axis":null},"text":{"value":"349.0"}}},
 {"data":{"values":[{}]},"mark":{"type":"text","align":"right","baseline":"middle","fontSize":6.2,"color":"#b2b5be"},
  "encoding":{"x":{"datum":66.3},"y":{"datum":412.5,"axis":null},"text":{"value":"H"}}},
 {"data":{"values":[{}]},"mark":{"type":"text","align":"left","baseline":"middle","fontSize":6.2,"color":"#f23645"},
  "encoding":{"x":{"datum":66.3},"y":{"datum":412.5,"axis":null},"text":{"value":"349.1"}}},
 {"data":{"values":[{}]},"mark":{"type":"text","align":"right","baseline":"middle","fontSize":6.2,"color":"#b2b5be"},
  "encoding":{"x":{"datum":76.6},"y":{"datum":412.5,"axis":null},"text":{"value":"L"}}},
 {"data":{"values":[{}]},"mark":{"type":"text","align":"left","baseline":"middle","fontSize":6.2,"color":"#f23645"},
  "encoding":{"x":{"datum":76.6},"y":{"datum":412.5,"axis":null},"text":{"value":"345.7"}}},
 {"data":{"values":[{}]},"mark":{"type":"text","align":"right","baseline":"middle","fontSize":6.2,"color":"#b2b5be"},
  "encoding":{"x":{"datum":87.4},"y":{"datum":412.5,"axis":null},"text":{"value":"C"}}},
 {"data":{"values":[{}]},"mark":{"type":"text","align":"left","baseline":"middle","fontSize":6.2,"color":"#f23645"},
  "encoding":{"x":{"datum":87.4},"y":{"datum":412.5,"axis":null},"text":{"value":"347.0"}}},
 {"data":{"values":[{}]},"mark":{"type":"text","align":"left","baseline":"middle","fontSize":6.2,"color":"#f23645"},
  "encoding":{"x":{"datum":96.05},"y":{"datum":412.5,"axis":null},"text":{"value":"−1.9 (−0.54%)"}}},
 {"data":{"values":[{}]},"mark":{"type":"text","align":"left","baseline":"middle","fontSize":6.2,"color":"#b2b5be"},
  "encoding":{"x":{"datum":4.3},"y":{"datum":410.2,"axis":null},"text":{"value":"Vol"}}},
 {"data":{"values":[{}]},"mark":{"type":"text","align":"left","baseline":"middle","fontSize":6.2,"color":"#f23645"},
  "encoding":{"x":{"datum":9.8},"y":{"datum":410.2,"axis":null},"text":{"value":"910"}}},
 {"data":{"values":[{}]},"mark":{"type":"text","align":"left","baseline":"middle","fontSize":7.5,"fontWeight":"bold","color":"#d1d4dc"},
  "encoding":{"x":{"datum":2.0},"y":{"datum":238.0,"axis":null},"text":{"value":"TV"}}},
 {"data":{"values":[{}]},"mark":{"type":"text","align":"left","baseline":"middle","fontSize":7.5,"color":"#d1d4dc"},
  "encoding":{"x":{"datum":7.5},"y":{"datum":238.0,"axis":null},"text":{"value":"TradingView"}}}
]}
],
"resolve":{"scale":{"y":"independent"}}
}
